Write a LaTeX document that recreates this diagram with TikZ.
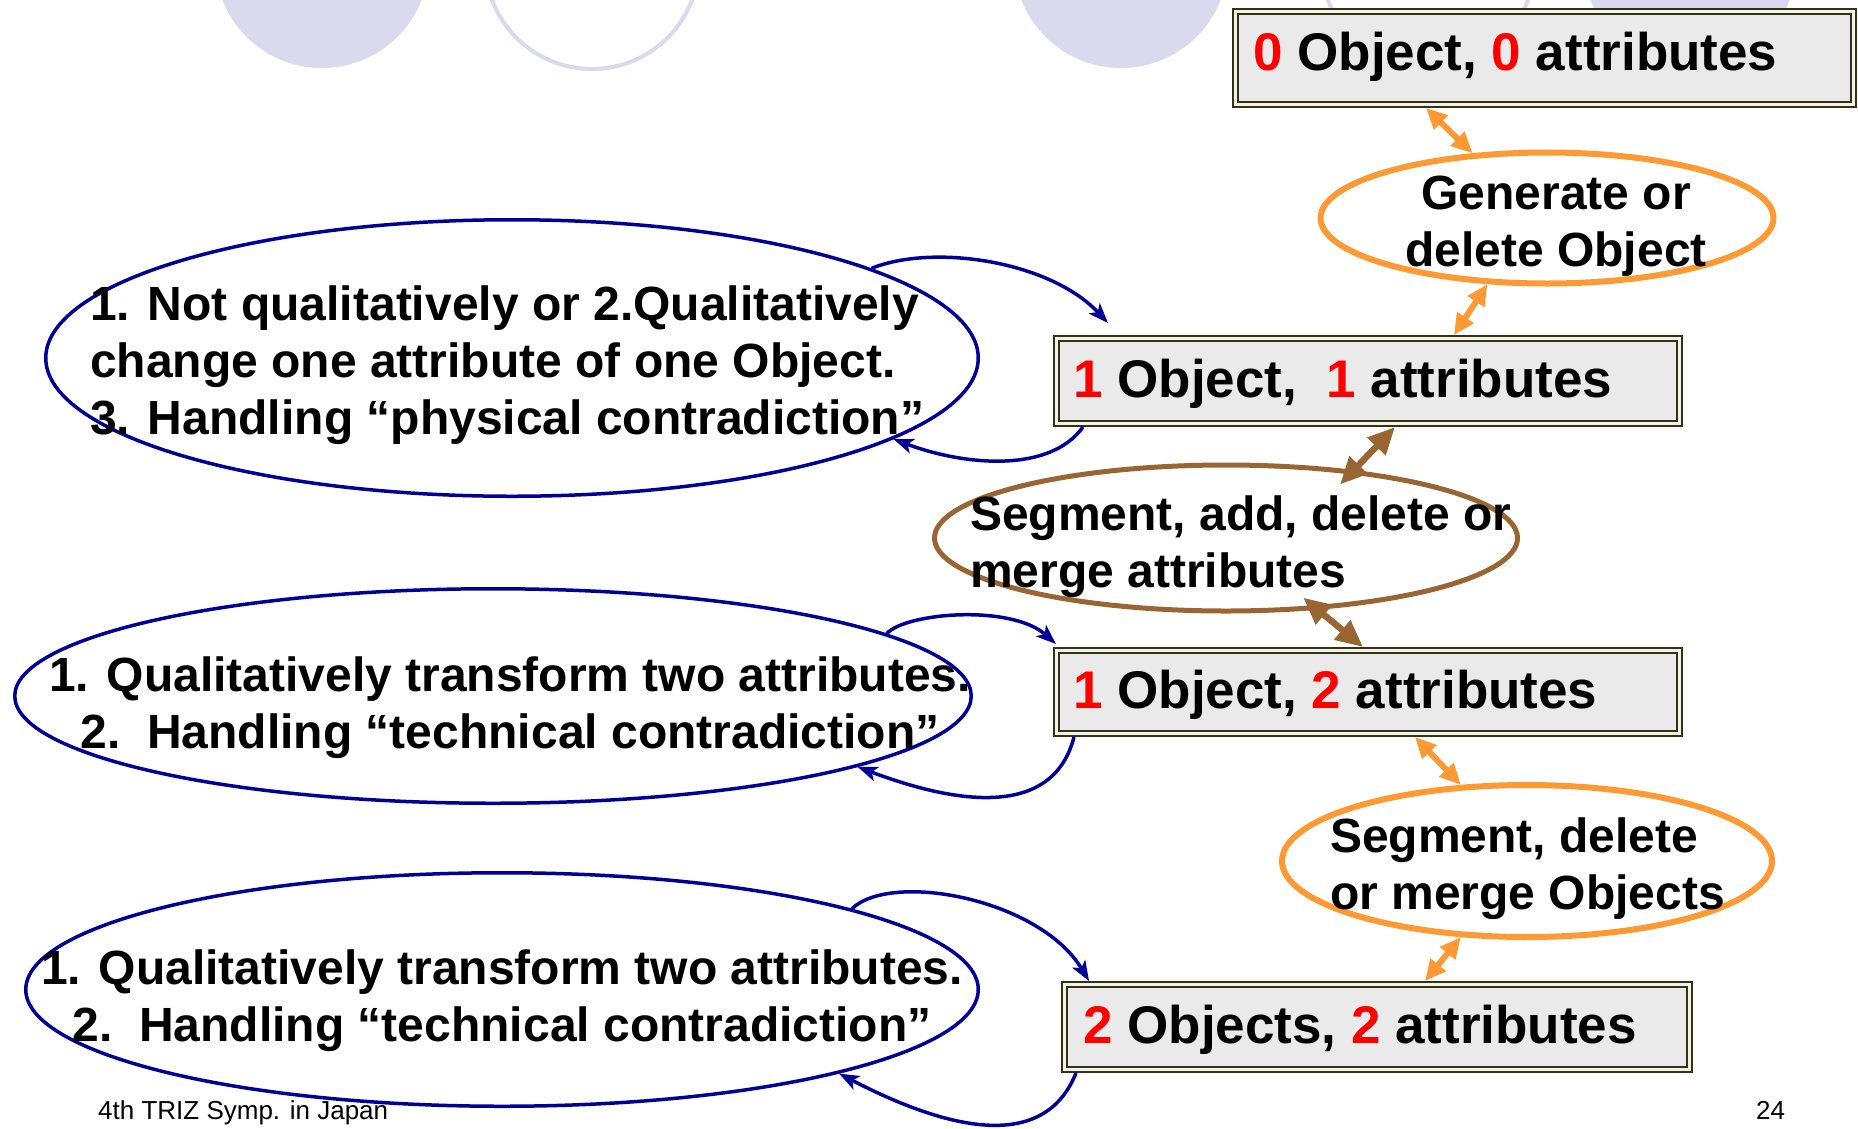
\documentclass[tikz,border=0pt]{standalone}
\usepackage{fontspec}
\setmainfont{Liberation Sans}
\usetikzlibrary{arrows.meta,shapes.geometric}
\definecolor{navyb}{HTML}{000099}
\definecolor{orng}{HTML}{FF9933}
\definecolor{brwn}{HTML}{996633}
\definecolor{olivd}{HTML}{333311}
\definecolor{boxfill}{HTML}{EAEAEA}
\definecolor{lav}{HTML}{DADAEE}
\definecolor{gapc}{HTML}{F2F2EA}
\begin{document}
\begin{tikzpicture}[x=1pt,y=-1pt,
  statebox/.style={rectangle, draw=olivd, line width=2.25pt, double=gapc, double distance=2.5pt, fill=boxfill, inner sep=0pt, outer sep=3.5pt},
  boxlab/.style={font=\fontsize{53}{60}\selectfont\bfseries, inner sep=0pt, anchor=base west},
  etext/.style={font=\fontsize{48}{57}\selectfont\bfseries, inner sep=0pt},
  foot/.style={font=\fontsize{26}{30}\selectfont, inner sep=0pt, anchor=base west},
  oell/.style={ellipse, draw=orng, line width=6pt, inner sep=0pt},
  brell/.style={ellipse, draw=brwn, line width=5pt, inner sep=0pt},
  bell/.style={ellipse, draw=navyb, line width=3.5pt, inner sep=0pt},
  oarr/.style={draw=orng, line width=6pt, {Triangle[length=21pt,width=19pt]}-{Triangle[length=21pt,width=19pt]}},
  barr/.style={draw=brwn, line width=6.5pt, {Triangle[length=27pt,width=24pt]}-{Triangle[length=27pt,width=24pt]}},
  larr/.style={draw=navyb, line width=3.5pt, -{Stealth[length=20pt,width=15pt,inset=5pt]}},
  decofill/.style={fill=lav},
  decoline/.style={draw=lav, line width=4pt}
]
\useasboundingbox (0,0) rectangle (1858,1128);
\clip (0,0) rectangle (1858,1128);
\fill[white] (0,0) rectangle (1858,1128);

% decorative circles at the top
\fill[decofill] (322,-39) circle[radius=107];
\draw[decoline] (592,-38) circle[radius=107];
\fill[decofill] (1121,-39) circle[radius=107];
\draw[decoline] (1428,-38) circle[radius=107];
\fill[decofill] (1690,-39) circle[radius=107];

% ellipses
\node[oell, minimum width=453pt, minimum height=131pt] (gen) at (1547,218) {};
\node[brell, minimum width=583pt, minimum height=146pt] (brown) at (1226,538) {};
\node[oell, minimum width=490pt, minimum height=152pt] (seg) at (1527,861) {};
\node[bell, minimum width=932.5pt, minimum height=276.5pt] (e1) at (512,358) {};
\node[bell, minimum width=956.5pt, minimum height=214.5pt] (e2) at (493,696) {};
\node[bell, minimum width=952.5pt, minimum height=233.5pt] (e3) at (502,989.5) {};

% state boxes
\node[statebox, minimum width=618pt, minimum height=93pt] (box0) at (1544.5,58) {};
\node[statebox, minimum width=623pt, minimum height=85pt] (box1) at (1368,381) {};
\node[statebox, minimum width=623pt, minimum height=83pt] (box2) at (1368,692) {};
\node[statebox, minimum width=625pt, minimum height=85pt] (box3) at (1377,1027) {};

% box labels
\node[boxlab] (l0) at (1253,70) {\textcolor{red}{0} Object, \textcolor{red}{0} attributes};
\node[boxlab] (l1) at (1073,397) {\textcolor{red}{1} Object,\ \ \textcolor{red}{1} attributes};
\node[boxlab] (l2) at (1073,708) {\textcolor{red}{1} Object, \textcolor{red}{2} attributes};
\node[boxlab] (l3) at (1083,1043) {\textcolor{red}{2} Objects, \textcolor{red}{2} attributes};

% ellipse texts
\node[etext, align=center, anchor=north] (tgen) at (1556,169)
  {\rule{0pt}{40pt}Generate or\\delete Object};
\node[etext, align=left, anchor=north west] (tbrown) at (970,490)
  {\rule{0pt}{40pt}Segment, add, delete or\\merge attributes};
\node[etext, align=left, anchor=north west] (tseg) at (1330,812)
  {\rule{0pt}{40pt}Segment, delete\\or merge Objects};
\node[etext, align=left, anchor=north west] (t1) at (90,280)
  {\rule{0pt}{40pt}1. Not qualitatively or 2.Qualitatively\\change one attribute of one Object.\\3. Handling “physical contradiction”};
\node[etext, align=center, anchor=north] (t2) at (510,651)
  {\rule{0pt}{40pt}1. Qualitatively transform two attributes.\\2.\ \ Handling “technical contradiction”};
\node[etext, align=center, anchor=north] (t3) at (502,944)
  {\rule{0pt}{40pt}1. Qualitatively transform two attributes.\\2.\ \ Handling “technical contradiction”};

% footer
\node[foot] (f1) at (98,1119) {4th TRIZ Symp. in Japan};
\node[foot] (f2) at (1756,1119) {24};

% double arrows between states
\draw[oarr] ([xshift=194pt]box0.south west) -- (gen.139);
\draw[oarr] (gen.228) -- ([xshift=401pt]box1.north west);
\draw[barr, shorten >=-20pt] ([xshift=342pt]box1.south west) -- (brown.28);
\draw[barr, shorten <=-19pt] (brown.322) -- ([xshift=310pt]box2.north west);
\draw[oarr] ([xshift=362pt]box2.south west) -- (seg.131);
\draw[oarr] (seg.229) -- ([xshift=364pt]box3.north west);

% loop arrows
\draw[larr] (e1.14) .. controls +(62,-25) and +(-58,-62) .. ([shift={(55pt,12pt)}]box1.north west);
\draw[larr] ([xshift=30pt]box1.south west) .. controls +(-33,46) and +(72,27) .. (e1.348);
\draw[larr] (e2.9) .. controls +(19,-21) and +(-45,-40) .. ([shift={(3pt,3pt)}]box2.north west);
\draw[larr] ([xshift=21pt]box2.south west) .. controls +(-24,93) and +(72,27) .. (e2.349);
\draw[larr] (e3.13) .. controls +(40,-38) and +(-49,-82) .. ([xshift=28pt]box3.north west);
\draw[larr] ([xshift=15pt]box3.south west) .. controls +(-36,90) and +(85,44) .. (e3.346);
\end{tikzpicture}
\end{document}
